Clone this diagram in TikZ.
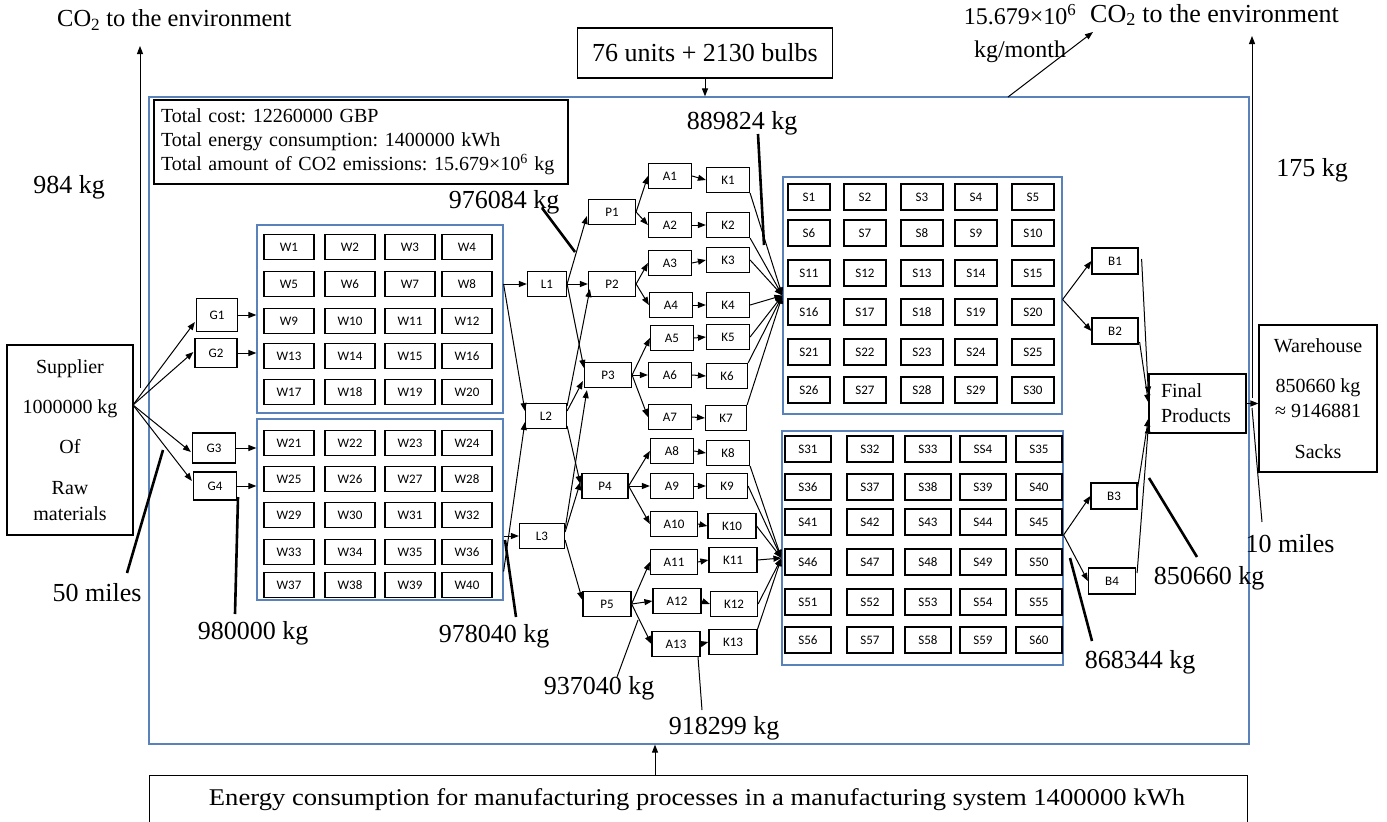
\documentclass[tikz,border=0pt]{standalone}
\usepackage{fontspec}
\setmainfont{Liberation Serif}
\newfontfamily\calib{Carlito}
\usetikzlibrary{arrows.meta,calc}
\definecolor{panelblue}{RGB}{88,130,185}
\tikzset{
  sb/.style={draw, line width=1.2pt, font=\calib\fontsize{13}{15}\selectfont, minimum width=43, minimum height=25, inner sep=0pt},
  panel/.style={draw=panelblue, line width=1.2pt, inner sep=0pt},
  bbox/.style={draw, line width=1.2pt, inner sep=0pt},
  arr/.style={line width=1pt, -{Triangle[length=8pt,width=6pt]}},
  con/.style={line width=1pt},
  ptr/.style={line width=2.6pt},
  thinptr/.style={line width=1pt},
  big/.style={font=\fontsize{26}{30}\selectfont, inner sep=0pt},
  mid/.style={font=\fontsize{20}{24}\selectfont, inner sep=0pt},
  co/.style={font=\fontsize{24.5}{28}\selectfont, inner sep=0pt},
}
\begin{document}
\frenchspacing
\begin{tikzpicture}[x=1pt,y=-1pt]
\useasboundingbox (0,0) rectangle (1387,822);
\clip (0,0) rectangle (1387,822);
\fill[white] (0,0) rectangle (1387,822);

% outer frame and panels
\node[panel, minimum width=1100, minimum height=647] (outer) at (699,420.5) {};
\node[panel, minimum width=246, minimum height=188] (Wup) at (380,319) {};
\node[panel, minimum width=246, minimum height=181] (Wlow) at (380,509.5) {};
\node[panel, minimum width=279, minimum height=237] (Sup) at (922.5,295.5) {};
\node[panel, minimum width=281, minimum height=234] (Slow) at (922.5,548) {};

% W boxes
\foreach \y [count=\r from 0] in {247,284,321,356,392}
  \foreach \x [count=\c] in {289,350,410,467} {
    \pgfmathtruncatemacro\n{4*\r+\c}
    \node[sb, minimum width=50] (W\n) at (\x,\y) {W\n};
  }
\foreach \y [count=\r from 0] in {443,479,515,552,585}
  \foreach \x [count=\c] in {289,350,410,467} {
    \pgfmathtruncatemacro\n{20+4*\r+\c}
    \node[sb, minimum width=50] (W\n) at (\x,\y) {W\n};
  }

% S boxes
\foreach \y [count=\r from 0] in {197,233,273,312,352,390}
  \foreach \x [count=\c] in {809,865,922,976,1033} {
    \pgfmathtruncatemacro\n{5*\r+\c}
    \node[sb, minimum width=42, minimum height=26] (S\n) at (\x,\y) {S\n};
  }
\foreach \y [count=\r from 0] in {449,487,522,562,602,640}
  \foreach \x [count=\c] in {808,870,928,983,1039} {
    \pgfmathtruncatemacro\n{30+5*\r+\c}
    \node[sb, minimum width=46, minimum height=26] (S\n) at (\x,\y) {\ifnum\n=34 SS4\else S\n\fi};
  }

% supplier and G
\node[bbox, minimum width=126, minimum height=190, align=center, font=\fontsize{20}{24}\selectfont] (supplier) at (70,440) {Supplier\\[16pt]1000000 kg\\[16pt]Of\\[17pt]Raw\\[2pt]materials};
\node[sb, minimum width=41, minimum height=33] (G1) at (217,315) {G1};
\node[sb, minimum width=42, minimum height=29] (G2) at (216,353) {G2};
\node[sb, minimum width=43, minimum height=30] (G3) at (214,448) {G3};
\node[sb, minimum width=43, minimum height=28] (G4) at (215,486) {G4};
\coordinate (sf) at (133,405);
\foreach \g/\d in {G1/7,G2/-1,G3/4,G4/-5}
  \draw[arr] (sf) -- ($(\g.west)+(-1,\d)$);
\foreach \g/\p in {G1/Wup,G2/Wup,G3/Wlow,G4/Wlow}
  \draw[arr] (\g.east) -- (\g.east -| \p.west);

% L, P, A, K
\node[sb, minimum width=39] (L1) at (547,284) {L1};
\node[sb, minimum width=41] (L2) at (546,416) {L2};
\node[sb, minimum width=45] (L3) at (542,536) {L3};
\node[sb, minimum width=47] (P1) at (612,212) {P1};
\node[sb, minimum width=47] (P2) at (612,284) {P2};
\node[sb, minimum width=47] (P3) at (608,375) {P3};
\node[sb, minimum width=46] (P4) at (605,486) {P4};
\node[sb, minimum width=48] (P5) at (607,604) {P5};
\foreach \i/\x/\y/\w in {1/670/176/43, 2/670/225/43, 3/670/263/43, 4/671/305/43, 5/672/338/43, 6/670/375/43, 7/670/417/43, 8/672/451/43, 9/672/486/43, 10/674/524/47, 11/674/562/47, 12/677/601/48, 13/676/644/48}
  \node[sb, minimum width=\w] (A\i) at (\x,\y) {A\i};
\foreach \i/\x/\y/\w in {1/728/180/43, 2/728/225/43, 3/728/260/43, 4/728/305/43, 5/728/337/43, 6/727/376/41, 7/726/418/41, 8/728/453/43, 9/727/486/41, 10/732/526/48, 11/733/560/48, 12/734/604/47, 13/733/642/48}
  \node[sb, minimum width=\w] (K\i) at (\x,\y) {K\i};

% W panels to L
\draw[arr] (Wup.east |- L1.west) -- (L1.west);
\draw[arr] (Wup.east |- L1.west) -- ($(L2.west)+(0,-5)$);
\draw[arr] (Wlow.east |- L3.west) -- (L3.west);
\draw[arr] ($(Wlow.east)+(0,62)$) -- ($(L2.west)+(0,6)$);

% L to P
\draw[arr] (L1.east) -- ($(P1.west)+(-1,4)$);
\draw[arr] (L1.east) -- (P2.west);
\draw[arr] (L1.east) -- ($(P3.west)+(0,-7)$);
\draw[arr] ($(L2.east)+(0,-10)$) -- ($(P2.south west)+(2,-8)$);
\draw[arr] ($(L2.east)+(0,-5)$) -- ($(P3.west)+(-1,6)$);
\draw[arr] ($(L2.east)+(0,10)$) -- ($(P4.west)+(-1,-2)$);
\draw[arr] ($(L3.east)+(0,-7)$) -- ($(P3.south west)+(3,2)$);
\draw[arr] ($(L3.east)+(0,-4)$) -- ($(P4.west)+(-1,-4)$);
\draw[arr] ($(L3.east)+(0,4)$) -- ($(P5.west)+(0,-4)$);

% P to A, A to K
\foreach \p/\a in {P1/A1,P1/A2,P2/A3,P2/A4,P3/A5,P3/A6,P3/A7,P4/A8,P4/A9,P4/A10,P5/A11,P5/A12,P5/A13}
  \draw[arr] (\p.east) -- (\a.west);
\foreach \i in {1,...,13}
  \draw[arr] (A\i.east) -- (K\i.west);

% K to S panels
\foreach \k/\a in {K1/south east,K2/south east,K3/east,K4/east,K5/east,K6/north east,K7/north east}
  \draw[arr] (\k.\a) -- (Sup.west);
\coordinate (slin) at ($(Slow.west)+(0,10)$);
\foreach \k/\a in {K8/south east,K9/east,K10/east,K11/east,K12/east,K13/north east}
  \draw[arr] (\k.\a) -- (slin);

% B and final products
\node[sb, minimum width=46, minimum height=26] (B1) at (1115,261) {B1};
\node[sb, minimum width=46, minimum height=26] (B2) at (1115,331) {B2};
\node[sb, minimum width=46, minimum height=26] (B3) at (1114,496) {B3};
\node[sb, minimum width=47, minimum height=26] (B4) at (1112,581) {B4};
\coordinate (sout1) at ($(Sup.east)+(0,4)$);
\coordinate (sout2) at ($(Slow.east)+(0,-13)$);
\draw[arr] (sout1) -- (B1.west);
\draw[arr] (sout1) -- (B2.west);
\draw[arr] (sout2) -- (B3.west);
\draw[arr] (sout2) -- (B4.west);
\node[draw, line width=1.2pt, minimum width=97, minimum height=59, text width=73, inner xsep=12pt, inner ysep=0pt, align=left, font=\fontsize{20}{25}\selectfont] (fp) at (1197.5,403.5) {Final\\Products};
\draw[arr] ($(B1.east)+(3,-2)$) -- ($(fp.west)+(0,-9)$);
\draw[arr] ($(B2.east)+(1,11)$) -- ($(fp.west)+(0,-1)$);
\draw[arr] ($(B3.east)+(0,-8)$) -- ($(fp.west)+(0,15)$);
\draw[arr] ($(B4.east)+(1,-8)$) -- ($(fp.west)+(0,22)$);
\node[bbox, minimum width=118, minimum height=147, align=center, font=\fontsize{20}{24}\selectfont] (wh) at (1318,398.5) {Warehouse\\[16pt]850660 kg\\[1pt]≈ 9146881\\[17pt]Sacks};
\draw[arr] (fp.east) -- (fp.east -| wh.west);

% totals box
\node[draw, line width=1.2pt, minimum width=414, minimum height=84, text width=400, inner xsep=7pt, inner ysep=0pt, align=left, font=\fontsize{20}{24}\selectfont] (tot) at (361,142) {Total cost: 12260000 GBP\\Total energy consumption: 1400000 kWh\\Total amount of CO2 emissions: 15.679×10\textsuperscript{6} kg};

% top inputs
\node[bbox, minimum width=255, minimum height=50, font=\fontsize{26}{30}\selectfont] (units) at (705,53) {76 units + 2130 bulbs};
\draw[arr] (units.south) -- (units.south |- outer.north);
\node[inner sep=0pt, align=center, font=\fontsize{24}{33}\selectfont] (rate) at (1020,34) {15.679×10\textsuperscript{6}\\kg/month};
\coordinate (r0) at (1008,97);
\coordinate (r1) at (1093,32);
\draw[arr] (r0) -- (r1);

% CO2 outputs
\node[co, anchor=west] (co2l) at (57,20) {CO\textsubscript{2} to the environment};
\coordinate (c1b) at (140,388);
\coordinate (c1t) at (140,46);
\draw[arr] (c1b) -- (c1t);
\node[co, font=\fontsize{26}{30}\selectfont, anchor=west] (co2r) at (1090,15) {CO\textsubscript{2} to the environment};
\coordinate (c2b) at (1252,398);
\coordinate (c2t) at (1252,36);
\draw[arr] (c2b) -- (c2t);

% energy box
\node[bbox, anchor=north west, minimum width=1098, minimum height=70] (energy) at (149,775) {};
\node[inner sep=0pt, font=\fontsize{24}{26}\selectfont] (entxt) at (697,800) {\scalebox{1.11}[1]{Energy consumption for manufacturing processes in a manufacturing system 1400000 kWh}};
\coordinate (ea) at (655,775);
\draw[arr] (ea) -- (ea |- outer.south);

% labels with pointers
\node[big] (l984) at (69,187) {984 kg};
\node[big] (l175) at (1312,170) {175 kg};
\node[big] (l976) at (504,202) {976084 kg};
\coordinate (p976a) at (542,208); \coordinate (p976b) at (575,252);
\draw[ptr] (p976a) -- (p976b);
\node[big] (l889) at (742,123) {889824 kg};
\coordinate (p889a) at (758,134); \coordinate (p889b) at (764,245);
\draw[ptr] (p889a) -- (p889b);
\node[big] (l50) at (97,593) {50 miles};
\coordinate (p50a) at (127,573); \coordinate (p50b) at (163,450);
\draw[ptr] (p50a) -- (p50b);
\node[big] (l980) at (253,633) {980000 kg};
\coordinate (p980a) at (235,614); \coordinate (p980b) at (238,497);
\draw[ptr] (p980a) -- (p980b);
\node[big] (l978) at (494,636) {978040 kg};
\coordinate (p978a) at (516,617); \coordinate (p978b) at (505,540);
\draw[ptr] (p978a) -- (p978b);
\node[big] (l937) at (599,688) {937040 kg};
\coordinate (p937a) at (617,677); \coordinate (p937b) at (638,620);
\draw[thinptr] (p937a) -- (p937b);
\node[big] (l918) at (724,728) {918299 kg};
\coordinate (p918a) at (702,710); \coordinate (p918b) at (698,657);
\draw[thinptr] (p918a) -- (p918b);
\node[big] (l868) at (1140,662) {868344 kg};
\coordinate (p868a) at (1092,641); \coordinate (p868b) at (1070,558);
\draw[ptr] (p868a) -- (p868b);
\node[big] (l850) at (1209,578) {850660 kg};
\coordinate (p850a) at (1197,557); \coordinate (p850b) at (1149,478);
\draw[ptr] (p850a) -- (p850b);
\node[big] (l10) at (1290,544) {10 miles};
\coordinate (p10a) at (1262,522); \coordinate (p10b) at (1252,408);
\draw[thinptr] (p10a) -- (p10b);
\end{tikzpicture}
\end{document}
